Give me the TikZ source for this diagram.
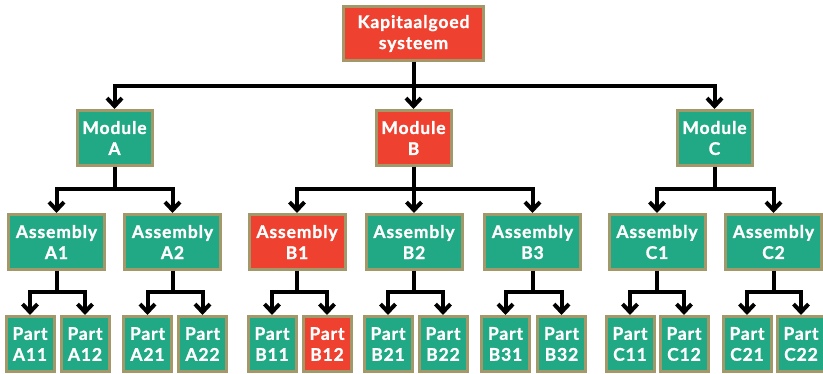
\documentclass[tikz,border=0pt]{standalone}
\usepackage{fontspec}
\setmainfont{Lato}[BoldFeatures={FakeBold=1.2, LetterSpace=5}]
\usetikzlibrary{arrows.meta}
\definecolor{boxgreen}{RGB}{33,168,132}
\definecolor{boxred}{RGB}{238,65,48}
\definecolor{boxrim}{RGB}{163,152,106}
\tikzset{
  unit/.style={draw=boxrim, line width=3pt, text=white, align=center,
    font=\fontsize{17.5}{21}\selectfont\bfseries, inner sep=0pt},
  okbox/.style={unit, fill=boxgreen},
  hotbox/.style={unit, fill=boxred},
  topbox/.style={minimum width=140pt, minimum height=54pt},
  modbox/.style={minimum width=75pt, minimum height=55pt},
  asmbox/.style={minimum width=96pt, minimum height=55pt},
  partbox/.style={minimum width=48pt, minimum height=55pt},
  link/.style={line width=4pt, line join=miter,
    -{Straight Barb[length=8pt,width=15pt,line width=4pt]}},
}
\begin{document}
\begin{tikzpicture}[x=1pt, y=-1pt]
\useasboundingbox[fill=white] (0,0) rectangle (823,374);

% system
\node[hotbox, topbox] (sys) at (413.5,33.5) {Kapitaalgoed\\systeem};

% modules
\node[okbox, modbox]  (mA) at (114.5,138) {Module\\A};
\node[hotbox, modbox] (mB) at (413.5,138) {Module\\B};
\node[okbox, modbox]  (mC) at (714.5,138) {Module\\C};

% assemblies
\node[okbox, asmbox]  (aA1) at (56.5,242)  {Assembly\\A1};
\node[okbox, asmbox]  (aA2) at (172.5,242) {Assembly\\A2};
\node[hotbox, asmbox] (aB1) at (297,242)   {Assembly\\B1};
\node[okbox, asmbox]  (aB2) at (414,242)   {Assembly\\B2};
\node[okbox, asmbox]  (aB3) at (532.5,242) {Assembly\\B3};
\node[okbox, asmbox]  (aC1) at (657,242)   {Assembly\\C1};
\node[okbox, asmbox]  (aC2) at (773.5,242) {Assembly\\C2};

% parts
\node[okbox, partbox]  (pA11) at (30,344)    {Part\\A11};
\node[okbox, partbox]  (pA12) at (85,344)    {Part\\A12};
\node[okbox, partbox]  (pA21) at (147.5,344) {Part\\A21};
\node[okbox, partbox]  (pA22) at (202.5,344) {Part\\A22};
\node[okbox, partbox]  (pB11) at (272,344)   {Part\\B11};
\node[hotbox, partbox] (pB12) at (327,344)   {Part\\B12};
\node[okbox, partbox]  (pB21) at (388,344)   {Part\\B21};
\node[okbox, partbox]  (pB22) at (443,344)   {Part\\B22};
\node[okbox, partbox]  (pB31) at (505.5,344) {Part\\B31};
\node[okbox, partbox]  (pB32) at (561.5,344) {Part\\B32};
\node[okbox, partbox]  (pC11) at (630,344)   {Part\\C11};
\node[okbox, partbox]  (pC12) at (684,344)   {Part\\C12};
\node[okbox, partbox]  (pC21) at (747,344)   {Part\\C21};
\node[okbox, partbox]  (pC22) at (801,344)   {Part\\C22};

% bus heights of the three levels
\coordinate (bus1) at (0,86);
\coordinate (bus2) at (0,189);
\coordinate (bus3) at (0,292);

% system -> modules
\foreach \c in {mA,mB,mC}
  \draw[link] (sys.south) -- (sys.south |- bus1) -| (\c.north);

% modules -> assemblies
\foreach \p/\c in {mA/aA1,mA/aA2,mB/aB1,mB/aB2,mB/aB3,mC/aC1,mC/aC2}
  \draw[link] (\p.south) -- (\p.south |- bus2) -| (\c.north);

% assemblies -> parts
\foreach \p/\c in {aA1/pA11,aA1/pA12,aA2/pA21,aA2/pA22,
                   aB1/pB11,aB1/pB12,aB2/pB21,aB2/pB22,aB3/pB31,aB3/pB32,
                   aC1/pC11,aC1/pC12,aC2/pC21,aC2/pC22}
  \draw[link] (\p.south) -- (\p.south |- bus3) -| (\c.north);
\end{tikzpicture}
\end{document}
